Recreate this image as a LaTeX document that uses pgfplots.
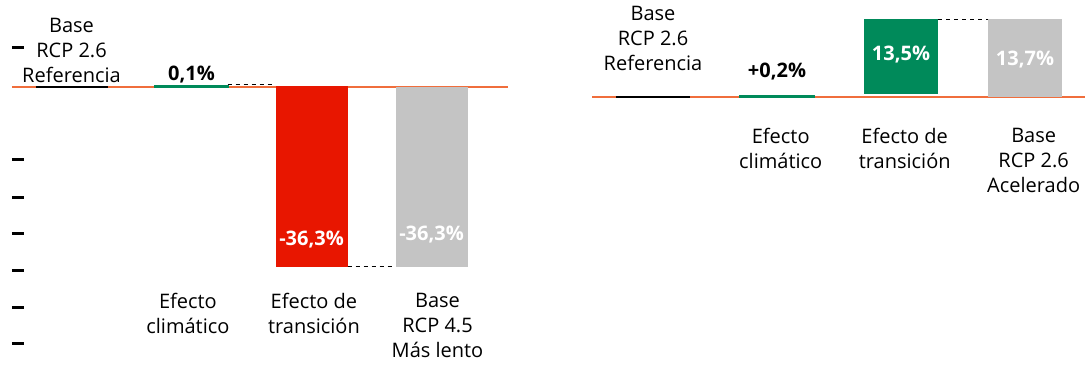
\documentclass[border=0pt]{standalone}
\usepackage{pgfplots}
\pgfplotsset{compat=1.18}
\usepackage{fontspec}
\setmainfont{Open Sans}

\definecolor{cOrange}{RGB}{240,110,60}
\definecolor{cGreen}{RGB}{0,138,90}
\definecolor{cRed}{RGB}{232,22,0}
\definecolor{cGrey}{RGB}{196,196,196}

\tikzset{
  lab/.style={align=center, inner sep=0pt, font=\fontsize{10}{12.5}\selectfont},
  val/.style={inner sep=0pt, anchor=base, font=\fontsize{10}{12}\selectfont\bfseries},
}

\begin{document}
\begin{tikzpicture}
% ---- left panel: RCP 4.5 ----
\begin{axis}[
    at={(6pt,0pt)}, anchor=south west,
    scale only axis, width=264pt, height=182.5pt,
    xmin=-0.496, xmax=3.904, ymin=-56.05, ymax=17.54,
    axis x line=none, axis y line*=left,
    y axis line style={draw=none},
    ytick={8.06,-14.7,-22.2,-29.6,-36.9,-44.4,-51.8}, yticklabels={},
    tick align=inside, major tick length=6pt,
    ytick style={black, line width=1.5pt},
    clip=false,
]
\addplot[cOrange, line width=0.8pt] coordinates {(-0.496,0) (3.64,0)};
\addplot[black, line width=0.8pt] coordinates {(-0.3,0) (0.3,0)};
\addplot[fill=cGreen, draw=cGreen, line width=1.2pt] coordinates {(0.7,0) (1.3,0) (1.3,0.1) (0.7,0.1)} -- cycle;
\addplot[fill=cRed, draw=none] coordinates {(1.7,0.1) (2.3,0.1) (2.3,-36.2) (1.7,-36.2)} -- cycle;
\addplot[fill=cGrey, draw=none] coordinates {(2.7,0) (3.3,0) (3.3,-36.3) (2.7,-36.3)} -- cycle;
\addplot[black, line width=0.5pt, dash pattern=on 2pt off 2pt] coordinates {(1.3,0.5) (1.7,0.5)};
\addplot[black, line width=0.5pt, dash pattern=on 2pt off 2pt] coordinates {(2.3,-36.2) (2.7,-36.2)};

\node[lab, anchor=south] at (axis cs:0,0.8) {Base\\RCP 2.6\\Referencia};
\node[val] at (axis cs:1,1.4) {0,1\%};
\node[val, white] at (axis cs:2,-31.9) {-36,3\%};
\node[val, white] at (axis cs:3,-31.0) {-36,3\%};
\node[lab, anchor=north] at (axis cs:0.97,-41.5) {Efecto\\climático};
\node[lab, anchor=north] at (axis cs:2.02,-41.5) {Efecto de\\transición};
\node[lab, anchor=north] at (axis cs:3.05,-41.5) {Base\\RCP 4.5\\Más lento};
\end{axis}

% ---- right panel: RCP 2.6 accelerated ----
\begin{axis}[
    at={(296pt,0pt)}, anchor=south west,
    scale only axis, width=246.5pt, height=182.5pt,
    xmin=-0.492, xmax=3.484, ymin=-47.35, ymax=17.14,
    hide axis, clip=false,
]
\addplot[cOrange, line width=0.8pt] coordinates {(-0.492,0) (3.484,0)};
\addplot[black, line width=0.8pt] coordinates {(-0.3,0) (0.3,0)};
\addplot[fill=cGreen, draw=cGreen, line width=1pt] coordinates {(0.7,0) (1.3,0) (1.3,0.2) (0.7,0.2)} -- cycle;
\addplot[fill=cGreen, draw=none] coordinates {(1.7,0.5) (2.3,0.5) (2.3,13.7) (1.7,13.7)} -- cycle;
\addplot[fill=cGrey, draw=none] coordinates {(2.7,0) (3.3,0) (3.3,13.7) (2.7,13.7)} -- cycle;
\addplot[black, line width=0.5pt, dash pattern=on 2pt off 2pt] coordinates {(2.3,13.7) (2.7,13.7)};

\node[lab, anchor=south] at (axis cs:0,4.6) {Base\\RCP 2.6\\Referencia};
\node[val] at (axis cs:1,3.5) {+0,2\%};
\node[val, white] at (axis cs:2,6.4) {13,5\%};
\node[val, white] at (axis cs:3,5.65) {13,7\%};
\node[lab, anchor=north] at (axis cs:1.03,-5.5) {Efecto\\climático};
\node[lab, anchor=north] at (axis cs:2.03,-5.5) {Efecto de\\transición};
\node[lab, anchor=north] at (axis cs:3.07,-5.5) {Base\\RCP 2.6\\Acelerado};
\end{axis}

\pgfresetboundingbox
\useasboundingbox (0,0) rectangle (542.5pt,182.5pt);
\end{tikzpicture}
\end{document}
